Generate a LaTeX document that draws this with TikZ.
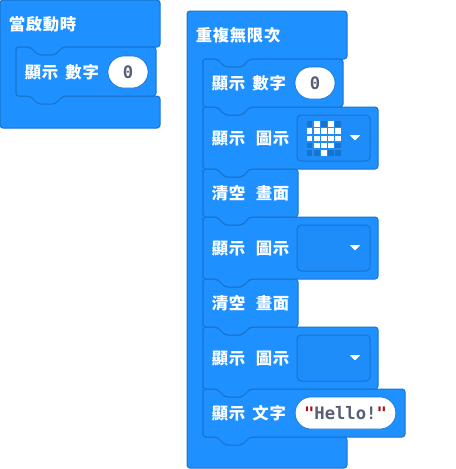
\documentclass[tikz,border=0pt]{standalone}
\usepackage{fontspec}
\newfontfamily\cjkfont[LetterSpace=4.5]{Noto Sans CJK TC}
\newfontfamily\codefont{DejaVu Sans Mono}
\usepackage{xcolor}
\definecolor{blockblue}{HTML}{1E90FF}
\definecolor{blockedge}{HTML}{1873CC}
\definecolor{fieldblue}{HTML}{1E8DF9}
\definecolor{codegray}{HTML}{575E75}
\definecolor{quotered}{HTML}{A31515}

% stack block: left, top, right, bottom
\newcommand{\stackblock}[4]{%
  \draw[block] (#1,#2) -- ({#1+14},#2) -- ({#1+22},{#2+8}) -- ({#1+39},{#2+8}) -- ({#1+47},#2)
    -- (#3,#2) -- (#3,#4) -- ({#1+47},#4) -- ({#1+39},{#4+8}) -- ({#1+22},{#4+8}) -- ({#1+14},#4)
    -- (#1,#4) -- cycle;}
% loop block: left, top, right, header bottom, foot top, foot bottom
\newcommand{\loopblock}[6]{%
  \draw[block] (#1,#2) -- (#3,#2) -- (#3,#4) -- ({#1+63},#4) -- ({#1+55},{#4+8}) -- ({#1+38},{#4+8})
    -- ({#1+30},#4) -- ({#1+16},#4) -- ({#1+16},#5) -- (#3,#5) -- (#3,#6) -- (#1,#6) -- cycle;}

\begin{document}
\begin{tikzpicture}[
  x=0.75pt, y=-0.75pt,
  block/.style={draw=blockedge, fill=blockblue, line width=0.75pt, rounded corners=2.2pt},
  label/.style={anchor=west, inner sep=0pt, text=white, font=\cjkfont\bfseries\fontsize{12.25}{14}\selectfont},
  pill/.style={draw=blockedge, fill=white, line width=0.5pt, minimum height=24pt, inner sep=0pt, rounded corners=11.9pt, text=codegray, font=\codefont\bfseries\fontsize{12.9}{14}\selectfont},
  field/.style={draw=blockedge, fill=fieldblue, line width=0.75pt, rounded corners=3pt, minimum width=54.75pt, minimum height=34.5pt, inner sep=0pt},
  caret/.style={fill=white, draw=white, line width=0.5pt, line join=round},
  ledon/.style={fill=white, minimum size=4.3pt, inner sep=0pt},
  ledoff/.style={fill=blockedge, minimum size=4.3pt, inner sep=0pt}
]
\useasboundingbox (0,0) rectangle (456,469);

\loopblock{0}{0}{160}{47}{96}{128}
\stackblock{16}{47}{156}{96}
\node[label] (onstart) at (8.5,24) {當啟動時};
\node[label] (shownumA) at (24.5,72) {顯示\hspace{5.5pt}數字};
\node[pill, minimum width=30pt] (zeroA) at (128,72) {0};

\loopblock{187}{11}{347}{59}{437}{468}
\stackblock{203}{389}{405}{437}
\stackblock{203}{327}{378}{389}
\stackblock{203}{279}{298}{327}
\stackblock{203}{217}{378}{279}
\stackblock{203}{169}{298}{217}
\stackblock{203}{107}{378}{169}
\stackblock{203}{59}{343}{107}

\node[label] (forever) at (195.5,35) {重複無限次};
\node[label] (shownumB) at (211.5,83) {顯示\hspace{5.5pt}數字};
\node[pill, minimum width=30pt] (zeroB) at (315,83) {0};
\node[label] (showiconA) at (211.5,139) {顯示\hspace{8pt}圖示};
\node[field] (iconA) at (333.5,138) {};
\node[label] (clearA) at (211.5,193) {清空\hspace{8pt}畫面};
\node[label] (showiconB) at (211.5,249) {顯示\hspace{8pt}圖示};
\node[field] (iconB) at (333.5,248) {};
\node[label] (clearB) at (211.5,303) {清空\hspace{8pt}畫面};
\node[label] (showiconC) at (211.5,359) {顯示\hspace{8pt}圖示};
\node[field] (iconC) at (333.5,358) {};
\node[label] (showtext) at (211.5,413) {顯示\hspace{5.5pt}文字};
\node[pill, minimum width=75.5pt] (hello) at (345.5,413) {\textcolor{quotered}{"}Hello!\textcolor{quotered}{"}};

\foreach \row/\cells in {0/{0,1,0,1,0},1/{1,1,1,1,1},2/{1,1,1,1,1},3/{0,1,1,1,0},4/{0,0,1,0,0}}
  \foreach \cell [count=\col from 0] in \cells {
    \ifnum\cell=1
      \node[ledon] (led\row\col) at ({309.5+7.2*\col},{124+7.2*\row}) {};
    \else
      \node[ledoff] (led\row\col) at ({309.5+7.2*\col},{124+7.2*\row}) {};
    \fi
  }

\foreach \fieldy in {135,245,355}
  \fill[caret] (350.5,\fieldy+.5) -- (359.5,\fieldy+.5) -- (355,\fieldy+5) -- cycle;
\end{tikzpicture}
\end{document}
